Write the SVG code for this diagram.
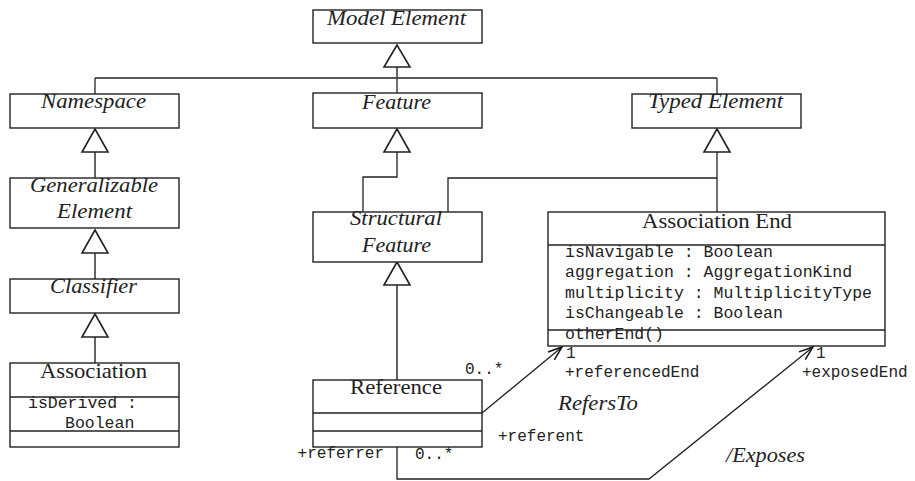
<svg xmlns="http://www.w3.org/2000/svg" width="915" height="481" viewBox="0 0 915 481">
<defs>
<style>
.box{fill:#fff;stroke:#222;stroke-width:1.4}
.ln{fill:none;stroke:#222;stroke-width:1.3}
.gl{fill:none;stroke:#555;stroke-width:1.8}
.tri{fill:#fff;stroke:#222;stroke-width:1.6}
.it{font-family:"Liberation Serif","Times New Roman",serif;font-style:italic;font-size:20px;fill:#222}
.rm{font-family:"Liberation Serif","Times New Roman",serif;font-size:21px;fill:#222}
.mo{font-family:"Liberation Mono","Courier New",monospace;font-size:16.5px;fill:#222}
.lb{font-family:"Liberation Mono","Courier New",monospace;font-size:16px;fill:#222}
</style>
<marker id="open" viewBox="0 0 16 12" refX="15" refY="6" markerWidth="16" markerHeight="12" markerUnits="userSpaceOnUse" orient="auto">
<path d="M1,1 L15,6 L1,11" fill="none" stroke="#111" stroke-width="1.5"/>
</marker>
</defs>
<rect width="915" height="481" fill="#fff"/>

<g id="connectors">
<line class="ln" x1="95" y1="78" x2="717" y2="78"/>
<line class="ln" x1="95" y1="78" x2="95" y2="94"/>
<line class="ln" x1="397" y1="78" x2="397" y2="93"/>
<line class="ln" x1="717" y1="78" x2="717" y2="94"/>
<line class="gl" x1="397" y1="67" x2="397" y2="78"/>
<polygon class="tri" points="397,45 384,67 410,67"/>
<line class="gl" x1="95" y1="152" x2="95" y2="178"/>
<polygon class="tri" points="95,129 82,152 108,152"/>
<line class="gl" x1="95" y1="253" x2="95" y2="279"/>
<polygon class="tri" points="95,230 82,253 108,253"/>
<line class="gl" x1="95" y1="337" x2="95" y2="363"/>
<polygon class="tri" points="95,314 82,337 108,337"/>
<polyline class="ln" points="397,152 397,177 363,177 363,212"/>
<polygon class="tri" points="397,129 384,152 410,152"/>
<polyline class="ln" points="448,212 448,178 717,178"/>
<line class="ln" x1="717" y1="152" x2="717" y2="212"/>
<polygon class="tri" points="717,129 704,152 730,152"/>
<line class="gl" x1="397" y1="285" x2="397" y2="380"/>
<polygon class="tri" points="397,262 384,285 410,285"/>
<line class="ln" x1="482" y1="413" x2="562" y2="347" marker-end="url(#open)"/>
<polyline class="ln" points="397,447 397,479 649,479 813,347" marker-end="url(#open)"/>
</g>

<g id="model-element">
<rect class="box" x="313" y="10" width="169" height="33"/>
<text class="it" x="327" y="25" textLength="139" lengthAdjust="spacingAndGlyphs">Model Element</text>
</g>

<g id="namespace">
<rect class="box" x="10" y="94" width="169" height="34"/>
<text class="it" x="41" y="108" textLength="105" lengthAdjust="spacingAndGlyphs">Namespace</text>
</g>

<g id="feature">
<rect class="box" x="313" y="93" width="169" height="35"/>
<text class="it" x="362" y="109" textLength="69" lengthAdjust="spacingAndGlyphs">Feature</text>
</g>

<g id="typed-element">
<rect class="box" x="632" y="94" width="169" height="34"/>
<text class="it" x="648" y="108" textLength="135" lengthAdjust="spacingAndGlyphs">Typed Element</text>
</g>

<g id="generalizable-element">
<rect class="box" x="10" y="178" width="169" height="50"/>
<text class="it" x="30" y="192" textLength="128" lengthAdjust="spacingAndGlyphs">Generalizable</text>
<text class="it" x="57" y="218" textLength="75" lengthAdjust="spacingAndGlyphs">Element</text>
</g>

<g id="classifier">
<rect class="box" x="10" y="279" width="169" height="34"/>
<text class="it" x="50" y="293" textLength="87" lengthAdjust="spacingAndGlyphs">Classifier</text>
</g>

<g id="association">
<rect class="box" x="10" y="363" width="169" height="84"/>
<line class="ln" x1="10" y1="397" x2="179" y2="397"/>
<line class="ln" x1="10" y1="431" x2="179" y2="431"/>
<text class="rm" x="40" y="378" textLength="107" lengthAdjust="spacingAndGlyphs">Association</text>
<text class="mo" x="28" y="408">isDerived :</text>
<text class="mo" x="65" y="428">Boolean</text>
</g>

<g id="structural-feature">
<rect class="box" x="313" y="212" width="169" height="50"/>
<text class="it" x="350" y="225" textLength="92" lengthAdjust="spacingAndGlyphs">Structural</text>
<text class="it" x="362" y="252" textLength="69" lengthAdjust="spacingAndGlyphs">Feature</text>
</g>

<g id="association-end">
<rect class="box" x="548" y="212" width="337" height="134"/>
<line class="ln" x1="548" y1="245" x2="885" y2="245"/>
<line class="ln" x1="548" y1="330" x2="885" y2="330"/>
<text class="rm" x="642" y="228" textLength="150" lengthAdjust="spacingAndGlyphs">Association End</text>
<text class="mo" x="565" y="257">isNavigable : Boolean</text>
<text class="mo" x="565" y="277">aggregation : AggregationKind</text>
<text class="mo" x="565" y="298">multiplicity : MultiplicityType</text>
<text class="mo" x="565" y="318">isChangeable : Boolean</text>
<text class="mo" x="565" y="339">otherEnd()</text>
</g>

<g id="reference">
<rect class="box" x="313" y="380" width="169" height="67"/>
<line class="ln" x1="313" y1="413" x2="482" y2="413"/>
<line class="ln" x1="313" y1="431" x2="482" y2="431"/>
<text class="rm" x="350" y="394" textLength="92" lengthAdjust="spacingAndGlyphs">Reference</text>
</g>

<g id="labels">
<text class="lb" x="465" y="374">0..*</text>
<text class="lb" x="566" y="358">1</text>
<text class="lb" x="565" y="377">+referencedEnd</text>
<text class="it" x="558" y="410" textLength="80" lengthAdjust="spacingAndGlyphs">RefersTo</text>
<text class="lb" x="498" y="441">+referent</text>
<text class="lb" x="384" y="458" text-anchor="end">+referrer</text>
<text class="lb" x="415" y="459">0..*</text>
<text class="lb" x="816" y="358">1</text>
<text class="lb" x="802" y="377">+exposedEnd</text>
<text class="it" x="726" y="462" textLength="79" lengthAdjust="spacingAndGlyphs">/Exposes</text>
</g>
</svg>
